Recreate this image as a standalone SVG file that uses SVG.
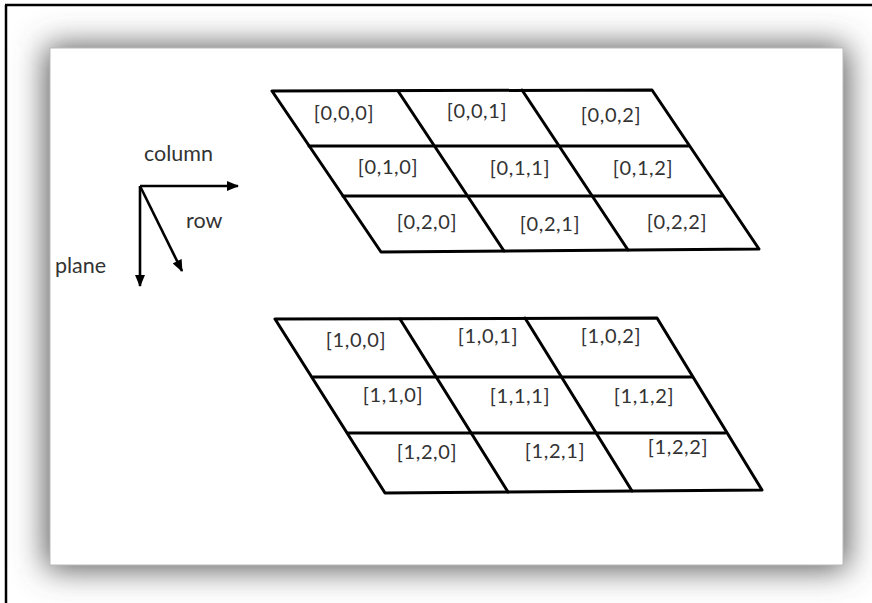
<svg xmlns="http://www.w3.org/2000/svg" width="872" height="603" viewBox="0 0 872 603">
<defs>
<filter id="shadow" x="-15%" y="-20%" width="130%" height="140%">
<feGaussianBlur stdDeviation="16"/>
</filter>
<marker id="arrow" viewBox="0 0 12 10" refX="11" refY="5" markerWidth="12" markerHeight="10" markerUnits="userSpaceOnUse" orient="auto">
<path d="M0,0 L12,5 L0,10 Z" fill="#000"/>
</marker>
</defs>
<style>
.grid{fill:none;stroke:#000;stroke-width:3;stroke-linejoin:round;stroke-linecap:round}
.ax{stroke:#000;stroke-width:2.6;fill:none}
.lbl{font-family:Lato,"Open Sans",sans-serif;font-size:20px;fill:#333;text-anchor:middle;letter-spacing:0.6px}
.axl{font-family:Lato,"Open Sans",sans-serif;font-size:21.5px;fill:#333}
</style>
<rect x="0" y="0" width="872" height="603" fill="#fff"/>
<g id="frame">
<rect x="46" y="46" width="801" height="523" fill="#555" filter="url(#shadow)"/>
<line x1="5" y1="5" x2="872" y2="5" stroke="#000" stroke-width="2.5"/>
<line x1="6" y1="5" x2="6" y2="603" stroke="#000" stroke-width="2.5"/>
<rect x="50" y="48" width="793" height="517" fill="#fff" stroke="#bbb" stroke-width="1"/>
</g>
<g id="axes">
<line class="ax" x1="140" y1="186" x2="238" y2="186" marker-end="url(#arrow)"/>
<line class="ax" x1="140" y1="186" x2="140" y2="286" marker-end="url(#arrow)"/>
<line class="ax" x1="140" y1="186" x2="182" y2="271" marker-end="url(#arrow)"/>
<text class="axl" x="144" y="161">column</text>
<text class="axl" x="186" y="228">row</text>
<text class="axl" x="55" y="273">plane</text>
</g>
<g id="plane0">
<path class="grid" d="M272,91 L652,90 L759,249 L381,252 Z"/>
<line class="grid" x1="309" y1="146" x2="688" y2="146"/>
<line class="grid" x1="343" y1="196" x2="722" y2="196"/>
<line class="grid" x1="398" y1="91" x2="504" y2="251"/>
<line class="grid" x1="522" y1="90" x2="628" y2="250"/>
<text class="lbl" x="344" y="120">[0,0,0]</text>
<text class="lbl" x="477" y="118">[0,0,1]</text>
<text class="lbl" x="611" y="122">[0,0,2]</text>
<text class="lbl" x="388" y="174">[0,1,0]</text>
<text class="lbl" x="520" y="175">[0,1,1]</text>
<text class="lbl" x="643" y="175">[0,1,2]</text>
<text class="lbl" x="427" y="229">[0,2,0]</text>
<text class="lbl" x="550" y="231">[0,2,1]</text>
<text class="lbl" x="677" y="229">[0,2,2]</text>
</g>
<g id="plane1">
<path class="grid" d="M275,319 L657,318 L762,490 L385,493 Z"/>
<line class="grid" x1="313" y1="377" x2="692" y2="377"/>
<line class="grid" x1="348" y1="433" x2="725" y2="433"/>
<line class="grid" x1="400" y1="319" x2="508" y2="492"/>
<line class="grid" x1="525" y1="318" x2="632" y2="491"/>
<text class="lbl" x="356" y="347">[1,0,0]</text>
<text class="lbl" x="488" y="343">[1,0,1]</text>
<text class="lbl" x="611" y="343">[1,0,2]</text>
<text class="lbl" x="393" y="402">[1,1,0]</text>
<text class="lbl" x="520" y="403">[1,1,1]</text>
<text class="lbl" x="644" y="403">[1,1,2]</text>
<text class="lbl" x="427" y="459">[1,2,0]</text>
<text class="lbl" x="555" y="458">[1,2,1]</text>
<text class="lbl" x="678" y="454">[1,2,2]</text>
</g>
</svg>
